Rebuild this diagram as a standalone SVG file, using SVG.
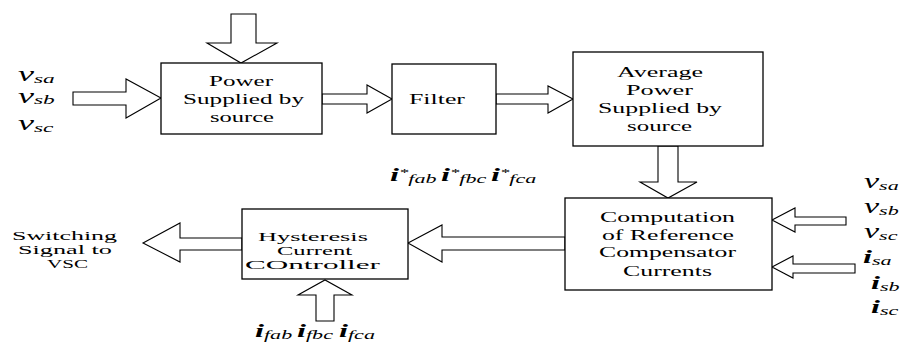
<svg xmlns="http://www.w3.org/2000/svg" width="903" height="345" viewBox="0 0 903 345">
<style>
.box{fill:#fff;stroke:#000;stroke-width:1.3}
.arr{fill:#fff;stroke:#000;stroke-width:1.1;stroke-linejoin:miter}
.t{font-family:"Liberation Serif","DejaVu Serif",serif;font-size:15.5px;fill:#000}
.s{font-size:13.5px}
.m{font-family:"Liberation Serif","DejaVu Serif",serif;font-style:italic;fill:#000}
.big{font-size:20px}
.bi{font-size:19px;font-weight:bold}
.sub{font-size:13px}
.st{font-size:11px}
</style>
<rect width="903" height="345" fill="#fff"/>
<g id="connectors">
<polygon class="arr" points="231,14 256,14 256,43 277,43 241,63 207,43 231,43"/>
<polygon class="arr" points="73,92 126,92 126,79 161,98 126,118 126,105 73,105"/>
<polygon class="arr" points="322,94 367,94 367,85 392,99 367,113 367,104 322,104"/>
<polygon class="arr" points="496,94 548,94 548,86 573,99 548,113 548,104 496,104"/>
<polygon class="arr" points="658,146 678,146 678,182 697,182 668,198 640,182 658,182"/>
<polygon class="arr" points="565,237 442,237 442,225 408,243 442,262 442,250 565,250"/>
<polygon class="arr" points="846,217 795,217 795,208 772,220 795,232 795,225 846,225"/>
<polygon class="arr" points="855,264 793,264 793,256 772,267 793,278 793,273 855,273"/>
<polygon class="arr" points="242,238 180,238 180,223 143,243 180,262 180,250 242,250"/>
<polygon class="arr" points="316,321 334,321 334,295 352,295 325,280 298,295 316,295"/>
</g>
<g id="power">
<rect class="box" x="161" y="63" width="161" height="71"/>
<text class="t" x="209" y="86" textLength="64" lengthAdjust="spacingAndGlyphs">Power</text>
<text class="t" x="183" y="104" textLength="121" lengthAdjust="spacingAndGlyphs">Supplied by</text>
<text class="t" x="210" y="122" textLength="64" lengthAdjust="spacingAndGlyphs">source</text>
</g>
<g id="filter">
<rect class="box" x="392" y="64" width="104" height="70"/>
<text class="t" x="409" y="104" textLength="56" lengthAdjust="spacingAndGlyphs">Filter</text>
</g>
<g id="average">
<rect class="box" x="573" y="52" width="190" height="94"/>
<text class="t" x="617" y="77" textLength="86" lengthAdjust="spacingAndGlyphs">Average</text>
<text class="t" x="626" y="95" textLength="67" lengthAdjust="spacingAndGlyphs">Power</text>
<text class="t" x="598" y="113" textLength="124" lengthAdjust="spacingAndGlyphs">Supplied by</text>
<text class="t" x="627" y="131" textLength="65" lengthAdjust="spacingAndGlyphs">source</text>
</g>
<g id="computation">
<rect class="box" x="565" y="198" width="207" height="92"/>
<text class="t" x="600" y="222" textLength="135" lengthAdjust="spacingAndGlyphs">Computation</text>
<text class="t" x="602" y="240" textLength="132" lengthAdjust="spacingAndGlyphs">of Reference</text>
<text class="t" x="599" y="257" textLength="137" lengthAdjust="spacingAndGlyphs">Compensator</text>
<text class="t" x="623" y="276" textLength="89" lengthAdjust="spacingAndGlyphs">Currents</text>
</g>
<g id="hysteresis">
<rect class="box" x="242" y="209" width="166" height="70"/>
<text class="t s" x="258" y="241" textLength="110" lengthAdjust="spacingAndGlyphs">Hysteresis</text>
<text class="t s" x="277" y="255" textLength="75" lengthAdjust="spacingAndGlyphs">Current</text>
<text class="t s" x="245" y="269" textLength="135" lengthAdjust="spacingAndGlyphs">COntroller</text>
</g>
<g id="output">
<text class="t s" x="12" y="240" textLength="105" lengthAdjust="spacingAndGlyphs">Switching</text>
<text class="t s" x="18" y="254" textLength="94" lengthAdjust="spacingAndGlyphs">Signal to</text>
<text class="t s" x="47" y="268" textLength="41" lengthAdjust="spacingAndGlyphs">VSC</text>
</g>
<g id="labels-left">
<text class="m" transform="translate(18,81) scale(1.8,1)"><tspan class="big">v</tspan><tspan class="sub" dy="1.5">sa</tspan></text>
<text class="m" transform="translate(18,102.5) scale(1.8,1)"><tspan class="big">v</tspan><tspan class="sub" dy="1.5">sb</tspan></text>
<text class="m" transform="translate(18,130) scale(1.8,1)"><tspan class="big">v</tspan><tspan class="sub" dy="1.5">sc</tspan></text>
</g>
<g id="labels-right">
<text class="m" transform="translate(864,188) scale(1.7,1)"><tspan class="big">v</tspan><tspan class="sub" dy="1.5">sa</tspan></text>
<text class="m" transform="translate(864,213) scale(1.7,1)"><tspan class="big">v</tspan><tspan class="sub" dy="1.5">sb</tspan></text>
<text class="m" transform="translate(864,238) scale(1.7,1)"><tspan class="big">v</tspan><tspan class="sub" dy="1.5">sc</tspan></text>
<text class="m" transform="translate(863,263) scale(1.7,1)"><tspan class="bi">i</tspan><tspan class="sub" dy="1.5">sa</tspan></text>
<text class="m" transform="translate(871,289) scale(1.7,1)"><tspan class="bi">i</tspan><tspan class="sub" dy="1.5">sb</tspan></text>
<text class="m" transform="translate(871,313) scale(1.7,1)"><tspan class="bi">i</tspan><tspan class="sub" dy="1.5">sc</tspan></text>
</g>
<g id="labels-ref">
<text class="m" transform="translate(390,181) scale(1.7,1)"><tspan class="bi">i</tspan><tspan class="st" dy="-5">*</tspan><tspan class="sub" dy="7">fab</tspan></text>
<text class="m" transform="translate(441,181) scale(1.7,1)"><tspan class="bi">i</tspan><tspan class="st" dy="-5">*</tspan><tspan class="sub" dy="7">fbc</tspan></text>
<text class="m" transform="translate(491,181) scale(1.7,1)"><tspan class="bi">i</tspan><tspan class="st" dy="-5">*</tspan><tspan class="sub" dy="7">fca</tspan></text>
</g>
<g id="labels-bottom">
<text class="m" transform="translate(255,337) scale(1.7,1)"><tspan class="bi">i</tspan><tspan class="sub" dy="1.5">fab</tspan></text>
<text class="m" transform="translate(297,337) scale(1.7,1)"><tspan class="bi">i</tspan><tspan class="sub" dy="1.5">fbc</tspan></text>
<text class="m" transform="translate(339,337) scale(1.7,1)"><tspan class="bi">i</tspan><tspan class="sub" dy="1.5">fca</tspan></text>
</g>
</svg>
